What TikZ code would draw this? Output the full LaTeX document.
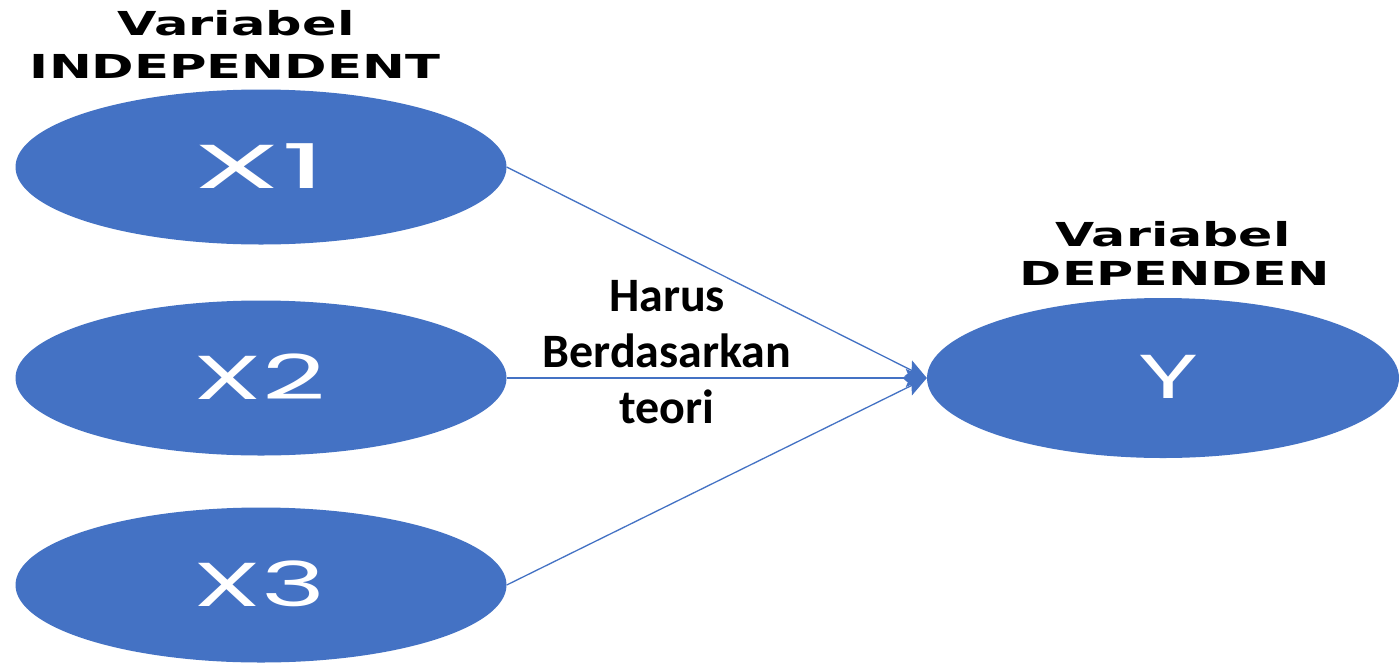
\documentclass[tikz,border=0pt]{standalone}
\usepackage{fontspec}
\usepackage{graphicx}
\usetikzlibrary{shapes.geometric,arrows.meta}
\setmainfont{Liberation Sans}
\newfontfamily\labfont{Carlito}
\newfontfamily\ellfont{Poppins}
\newfontfamily\ttlfont{DejaVu Sans}
\definecolor{ellblue}{HTML}{4472C4}
\newcommand\fitw[2]{\resizebox{#1}{\height}{#2}}
\begin{document}
\begin{tikzpicture}[x=1pt,y=-1pt,
  var/.style={ellipse,fill=ellblue,draw=none,minimum width=491pt,minimum height=155pt,inner sep=0pt,text=white},
  conn/.style={draw=ellblue,line width=1.3pt,-{Stealth[length=21pt,width=18pt,inset=4pt]}},
  ttl/.style={font=\ttlfont\bfseries\fontsize{33}{33}\selectfont,inner sep=0pt,anchor=base},
  elltxt/.style={font=\ellfont\fontsize{62}{62}\selectfont}]
\useasboundingbox (0,0) rectangle (1399,664);
\fill[white] (0,0) rectangle (1399,664);
\node[var] (X1) at (261,167) {};
\node[var] (X2) at (261,378) {};
\node[var] (X3) at (261,585) {};
\node[var,minimum width=472pt,minimum height=160pt] (Y) at (1163,378) {};
\node[elltxt,text=white] (tX1) at (260,166) {\fitw{132pt}{X1}};
\node[elltxt,text=white] (tX2) at (260,377) {\fitw{132pt}{X2}};
\node[elltxt,text=white] (tX3) at (260,584) {\fitw{132pt}{X3}};
\node[elltxt,text=white] (tY) at (1168,377) {\fitw{60pt}{Y}};
\node[ttl] (t1a) at (236,35) {\fitw{237pt}{Variabel}};
\node[ttl] (t1b) at (235,78) {\fitw{410pt}{INDEPENDENT}};
\node[ttl] (t2a) at (1173,246) {\fitw{235pt}{Variabel}};
\node[ttl] (t2b) at (1175,285) {\fitw{310pt}{DEPENDEN}};
\node[font=\labfont\bfseries\fontsize{48}{56}\selectfont,align=center] (lab) at (667,352) {Harus\\Berdasarkan\\teori};
\draw[conn] (X1.east) -- (Y.west);
\draw[conn] (X2.east) -- (Y.west);
\draw[conn] (X3.east) -- (Y.west);
\end{tikzpicture}
\end{document}
